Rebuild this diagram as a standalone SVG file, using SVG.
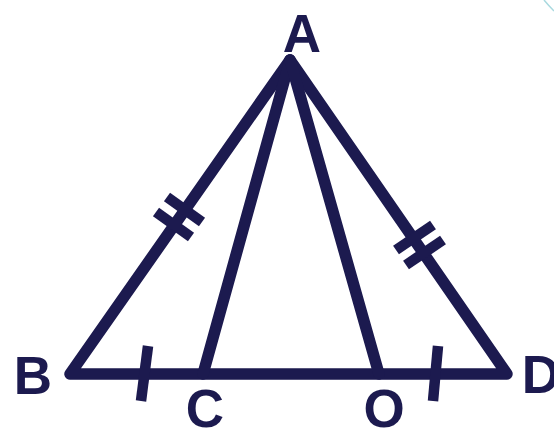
<svg xmlns="http://www.w3.org/2000/svg" width="554" height="429" viewBox="0 0 554 429">
<style>
.ln{stroke:#1c1a4f;stroke-width:11.5;stroke-linecap:round;stroke-linejoin:round;fill:none}
.tk{stroke:#1c1a4f;stroke-width:10.5;stroke-linecap:butt;fill:none}
.lb{font-family:"Liberation Sans",Arial,sans-serif;font-weight:bold;font-size:53px;fill:#1c1a4f;text-anchor:middle}
</style>
<rect width="554" height="429" fill="#ffffff"/>
<path d="M544,0 Q549,6 554,11" stroke="#a9d9df" stroke-width="1.5" fill="none"/>
<g id="connectors">
<path class="ln" d="M290,60 L70,374 L507,374 Z"/>
<line class="ln" x1="290" y1="60" x2="203" y2="374"/>
<line class="ln" x1="290" y1="60" x2="379" y2="374"/>
<line class="tk" x1="148" y1="346" x2="141" y2="401"/>
<line class="tk" x1="438" y1="346" x2="433" y2="401"/>
<line class="tk" x1="167" y1="197" x2="202" y2="222"/>
<line class="tk" x1="156" y1="212" x2="191" y2="237"/>
<line class="tk" x1="396" y1="250" x2="433" y2="225"/>
<line class="tk" x1="406" y1="265" x2="443" y2="240"/>
</g>
<g id="A"><text class="lb" x="302" y="52">A</text></g>
<g id="B"><text class="lb" x="33" y="394">B</text></g>
<g id="C"><text class="lb" x="205" y="427">C</text></g>
<g id="O"><text class="lb" x="384" y="427">O</text></g>
<g id="D"><text class="lb" x="541" y="393">D</text></g>
</svg>
